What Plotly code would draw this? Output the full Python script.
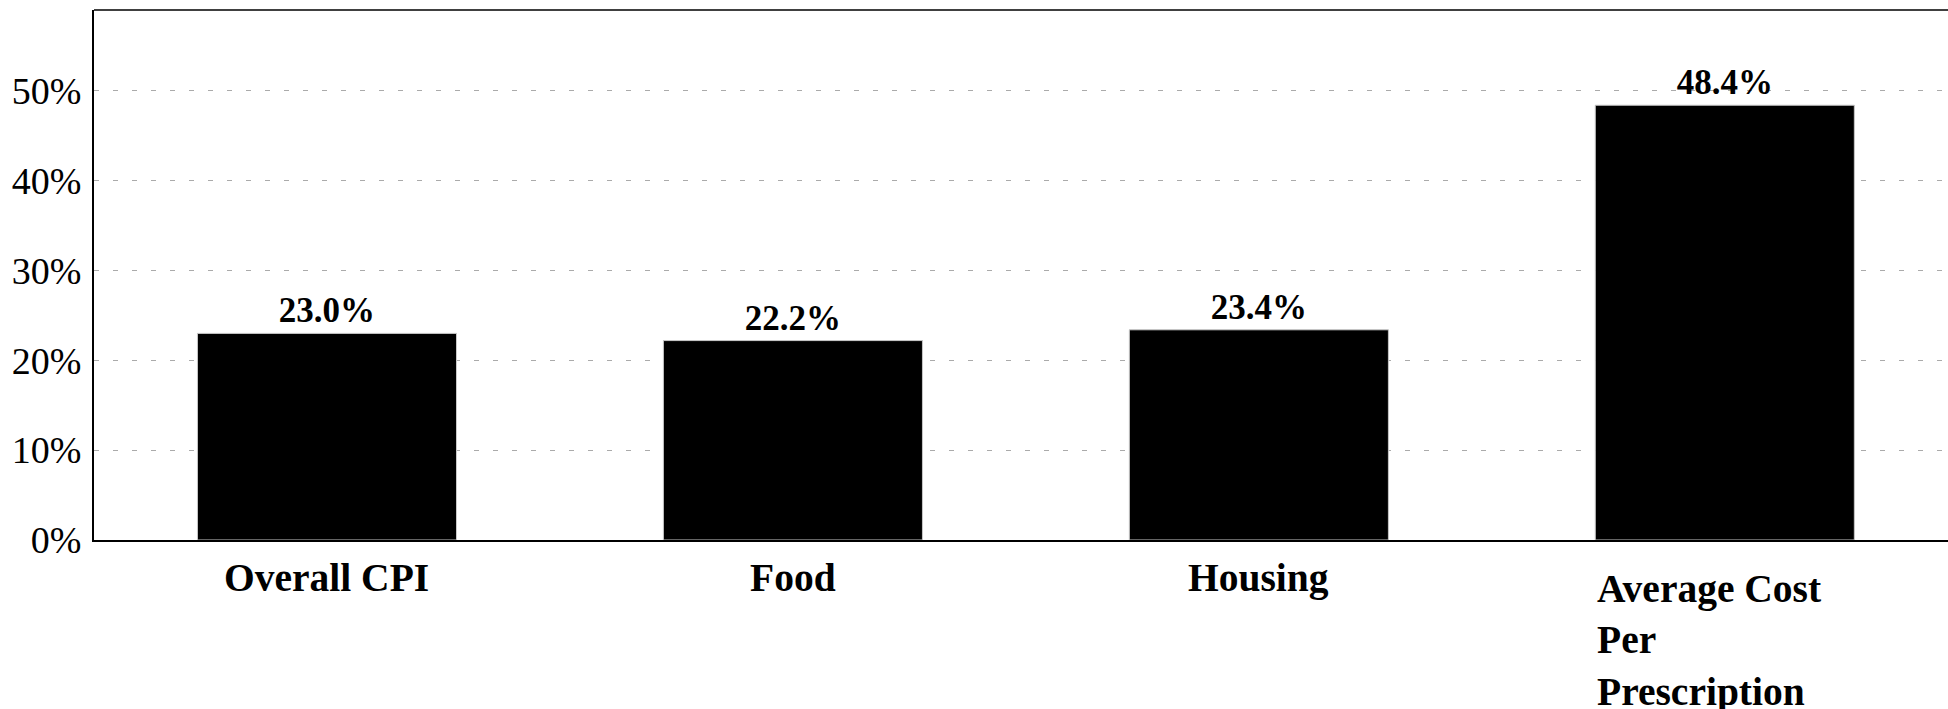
import plotly.graph_objects as go

# Percentage change by category
categories = ["Overall CPI", "Food", "Housing", "Average Cost Per Prescription"]
category_labels = ["Overall CPI", "Food", "Housing", "Average Cost<br>Per<br>Prescription"]
pct_change = [23.0, 22.2, 23.4, 48.4]
y_ticks = [0, 10, 20, 30, 40, 50]
y_tick_text = ["0%", "10%", "20%", "30%", "40%", "50%"]

SERIF = "Times New Roman, Liberation Serif, serif"

fig = go.Figure(
    go.Bar(
        x=categories,
        y=pct_change,
        width=0.556,
        marker=dict(color="#000000", line=dict(color="#c8c8c8", width=1)),
        texttemplate="%{y:.1f}%",
        textposition="outside",
        textfont=dict(family=SERIF, size=35, color="#000000", weight="bold"),
        cliponaxis=False,
        hoverinfo="skip",
    )
)

# Category labels below the axis, multi-line ones left-aligned within their block
for cat, lab in zip(categories, category_labels):
    multi = "<br>" in lab
    fig.add_annotation(
        x=cat, y=0, xref="x", yref="y",
        text=lab, showarrow=False,
        xanchor="center", yanchor="top", align="left",
        xshift=-16 if multi else 0,
        yshift=-25 if multi else -14,
        font=dict(family=SERIF, size=39.5, color="#000000", weight="bold"),
    )

# Frame line along the top of the plot area
fig.add_shape(type="line", xref="paper", yref="paper",
              x0=0, x1=1, y0=1, y1=1,
              line=dict(color="#000000", width=1.5))

fig.update_layout(
    width=1948,
    height=709,
    margin=dict(l=94, r=0, t=10, b=169),
    paper_bgcolor="#ffffff",
    plot_bgcolor="#ffffff",
    showlegend=False,
    font=dict(family=SERIF, color="#000000"),
    bargap=0.444,
    xaxis=dict(
        range=[-0.5, 3.479],
        showticklabels=False,
        showgrid=False,
        showline=True,
        linecolor="#000000",
        linewidth=1.5,
        ticks="",
        zeroline=False,
    ),
    yaxis=dict(
        range=[0, 59],
        tickvals=y_ticks,
        ticktext=y_tick_text,
        tickfont=dict(family=SERIF, size=38, color="#000000"),
        showgrid=True,
        gridcolor="#aaaaaa",
        gridwidth=1,
        griddash="5px,14px",
        showline=True,
        linecolor="#000000",
        linewidth=2,
        ticks="",
        ticklabelstandoff=3,
        zeroline=False,
    ),
)

fig.write_html("out.html")
